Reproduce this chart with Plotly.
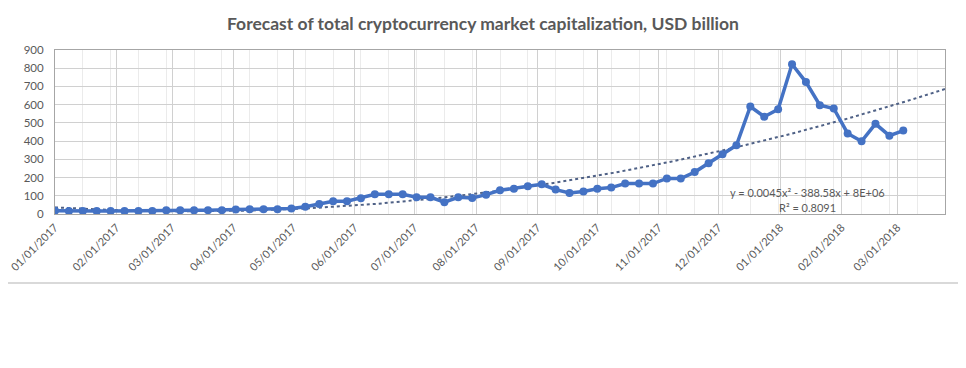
import numpy as np
import pandas as pd
import plotly.graph_objects as go

# ---- data ----
start_date = "2017-01-01"
n_weeks = 62
market_cap = [18, 16, 16, 16, 16, 16, 16, 16, 20, 20,
              20, 21, 21, 25, 26, 26, 26, 30, 40, 55,
              70, 70, 87, 108, 108, 108, 92, 92, 65, 92,
              88, 106, 130, 139, 152, 163, 134, 115, 124, 139,
              145, 167, 167, 167, 195, 195, 230, 278, 328, 377,
              590, 534, 575, 822, 724, 597, 579, 442, 399, 495,
              430, 458]
month_ticks = ["2017-01-01", "2017-02-01", "2017-03-01", "2017-04-01", "2017-05-01",
               "2017-06-01", "2017-07-01", "2017-08-01", "2017-09-01", "2017-10-01",
               "2017-11-01", "2017-12-01", "2018-01-01", "2018-02-01", "2018-03-01"]
month_labels = ["01/01/2017", "02/01/2017", "03/01/2017", "04/01/2017", "05/01/2017",
                "06/01/2017", "07/01/2017", "08/01/2017", "09/01/2017", "10/01/2017",
                "11/01/2017", "12/01/2017", "01/01/2018", "02/01/2018", "03/01/2018"]
axis_end = "2018-03-25"
title_text = "Forecast of total cryptocurrency market capitalization, USD billion"
eq_text = "y = 0.0045x² - 388.58x + 8E+06"
r2_text = "R² = 0.8091"

dates = pd.date_range(start_date, periods=n_weeks, freq="7D")

# polynomial (order 2) trendline fitted to the series, extended to axis end
day_num = (dates - pd.Timestamp(start_date)).days.values.astype(float)
coef = np.polyfit(day_num, np.array(market_cap, dtype=float), 2)
trend_dates = pd.date_range(start_date, axis_end, freq="D")
trend_x = (trend_dates - pd.Timestamp(start_date)).days.values.astype(float)
trend_y = np.polyval(coef, trend_x)

BLUE = "#4472C4"
GREY_TXT = "#595959"
FONT = "Lato"

# page has an 8px body margin: figure pixel = page pixel - 8
W, H = 950, 352
PL, PR, PT, PB = 47, 937, 42, 206   # plot area in figure pixels


def py(page_y):
    return (PB - (page_y - 8)) / (PB - PT)


def px(page_x):
    return ((page_x - 8) - PL) / (PR - PL)


fig = go.Figure()
fig.add_trace(go.Scatter(
    x=trend_dates, y=trend_y, mode="lines",
    line=dict(color="#4F6186", width=2, dash="dot"),
    hoverinfo="skip", showlegend=False))
fig.add_trace(go.Scatter(
    x=dates, y=market_cap, mode="lines+markers",
    line=dict(color=BLUE, width=3.5),
    marker=dict(color=BLUE, size=8, symbol="circle"),
    showlegend=False))

fig.update_layout(
    width=W, height=H,
    margin=dict(l=PL, r=W - PR, t=PT, b=H - PB, autoexpand=False),
    paper_bgcolor="white", plot_bgcolor="white",
    font=dict(family=FONT, size=11, color=GREY_TXT),
    title=dict(text="<b>" + title_text + "</b>", x=(483 - 8) / W, xanchor="center",
               y=1 - (24 - 8) / H, yanchor="middle",
               font=dict(family=FONT, size=17.5, color=GREY_TXT)),
    xaxis=dict(
        type="date", range=[start_date, axis_end], automargin=False,
        tickmode="array", tickvals=month_ticks, ticktext=month_labels,
        tickangle=-45, ticks="", ticklabelstandoff=2, ticklabeloverflow="allow",
        showgrid=True, gridcolor="#D0D0D0", gridwidth=1,
        showline=True, linecolor="#A6A6A6", linewidth=1, mirror=True,
        zeroline=False,
        tickfont=dict(family=FONT, size=11, color=GREY_TXT),
        minor=dict(showgrid=True, gridcolor="#EBEBEB", gridwidth=1,
                   tick0=start_date, dtick=14 * 86400000),
    ),
    yaxis=dict(
        range=[0, 900], dtick=100, tick0=0, automargin=False,
        showgrid=True, gridcolor="#D0D0D0", gridwidth=1,
        showline=True, linecolor="#A6A6A6", linewidth=1, mirror=True,
        zeroline=False, ticks="", ticklabelstandoff=8,
        tickfont=dict(family=FONT, size=11.5, color=GREY_TXT),
    ),
    annotations=[
        dict(text=eq_text, xref="paper", yref="paper", x=px(807), y=py(192),
             showarrow=False, xanchor="center", yanchor="middle",
             font=dict(family=FONT, size=11, color=GREY_TXT)),
        dict(text=r2_text, xref="paper", yref="paper", x=px(807), y=py(207),
             showarrow=False, xanchor="center", yanchor="middle",
             font=dict(family=FONT, size=11, color=GREY_TXT)),
    ],
    shapes=[
        dict(type="line", xref="paper", yref="paper", x0=px(0), x1=px(966),
             y0=py(283), y1=py(283), line=dict(color="#D9D9D9", width=2)),
    ],
)

fig.write_html("out.html")
